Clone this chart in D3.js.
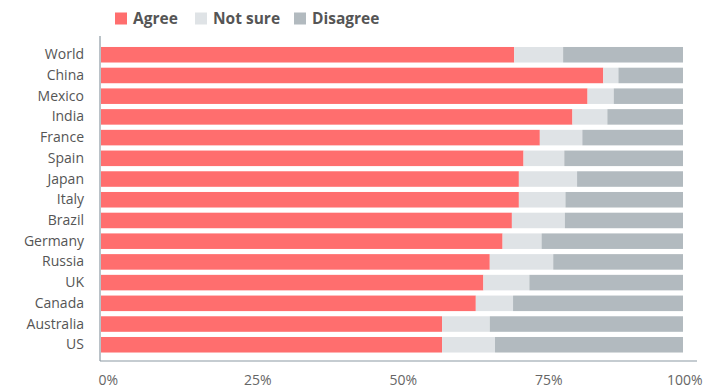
<!DOCTYPE html>
<html>
<head>
<meta charset="utf-8">
<script src="https://cdn.jsdelivr.net/npm/d3@7"></script>
<style>
  html, body { margin: 0; padding: 0; background: #fff; }
  svg { display: block; font-family: "Open Sans", "DejaVu Sans", sans-serif; }
</style>
</head>
<body>
<svg id="chart" width="719" height="390"></svg>
<script>
const categories = ["World","China","Mexico","India","France","Spain","Japan","Italy","Brazil","Germany","Russia","UK","Canada","Australia","US"];
const agree    = [71, 86.3, 83.6, 81, 75.4, 72.6, 71.8, 71.8, 70.6, 69, 66.8, 65.7, 64.4, 58.6, 58.6];
const notSure  = [8.4, 2.6, 4.5, 6, 7.3, 7, 10, 8, 9.1, 6.7, 10.9, 7.9, 6.4, 8.2, 9.1];
const disagree = agree.map((a, i) => +(100 - a - notSure[i]).toFixed(1));
const seriesNames = ["Agree", "Not sure", "Disagree"];
const tickValues = [0, 25, 50, 75, 100];
const tickLabels = ["0%", "25%", "50%", "75%", "100%"];

const colors = ["#ff6e6e", "#dfe3e6", "#b2babf"];
const FONT = '"Open Sans", "DejaVu Sans", sans-serif';

const svg = d3.select("#chart");

const x = d3.scaleLinear().domain([0, 100]).range([101, 683]);
const y = d3.scaleBand().domain(categories).range([41.8, 357.7]).paddingInner(0.25).paddingOuter(0.25);

const rows = categories.map((c, i) => ({ c, vals: [agree[i], notSure[i], disagree[i]] }));

const g = svg.append("g");
rows.forEach(r => {
  let acc = 0;
  r.vals.forEach((v, k) => {
    g.append("rect")
      .attr("x", x(acc))
      .attr("y", y(r.c))
      .attr("width", x(acc + v) - x(acc))
      .attr("height", y.bandwidth())
      .attr("fill", colors[k]);
    acc += v;
  });
});

// axis lines
svg.append("line").attr("x1", 100).attr("x2", 100).attr("y1", 36).attr("y2", 361)
  .attr("stroke", "#8c9aa3").attr("stroke-width", 1.2);
svg.append("line").attr("x1", 100).attr("x2", 697).attr("y1", 361).attr("y2", 361)
  .attr("stroke", "#8c9aa3").attr("stroke-width", 1.2);

// y labels
const yAxis = d3.axisLeft(y).tickSize(0).tickPadding(0);
const ya = svg.append("g").attr("transform", "translate(84,0)").call(yAxis)
  .attr("font-family", FONT);
ya.select(".domain").remove();
ya.selectAll("text").attr("font-size", 14).attr("fill", "#555");

// x labels
const xAxis = d3.axisBottom(x).tickValues(tickValues).tickFormat((d, i) => tickLabels[i]).tickSize(0).tickPadding(0);
const xa = svg.append("g").attr("transform", "translate(0,375)").call(xAxis)
  .attr("font-family", FONT);
xa.select(".domain").remove();
xa.selectAll("text").attr("font-size", 14).attr("fill", "#666")
  .attr("text-anchor", (d, i) => i === tickValues.length - 1 ? "end" : "start")
  .attr("dx", (d, i) => i === tickValues.length - 1 ? 19 : -3);

// legend
const legendX = [115, 195, 294];
seriesNames.forEach((n, k) => {
  svg.append("rect").attr("x", legendX[k]).attr("y", 12.5).attr("width", 12).attr("height", 12).attr("fill", colors[k]);
  svg.append("text").attr("x", legendX[k] + 18).attr("y", 24)
    .attr("font-family", FONT)
    .attr("font-size", 15.5).attr("font-weight", "bold").attr("fill", "#555").text(n);
});
</script>
</body>
</html>
